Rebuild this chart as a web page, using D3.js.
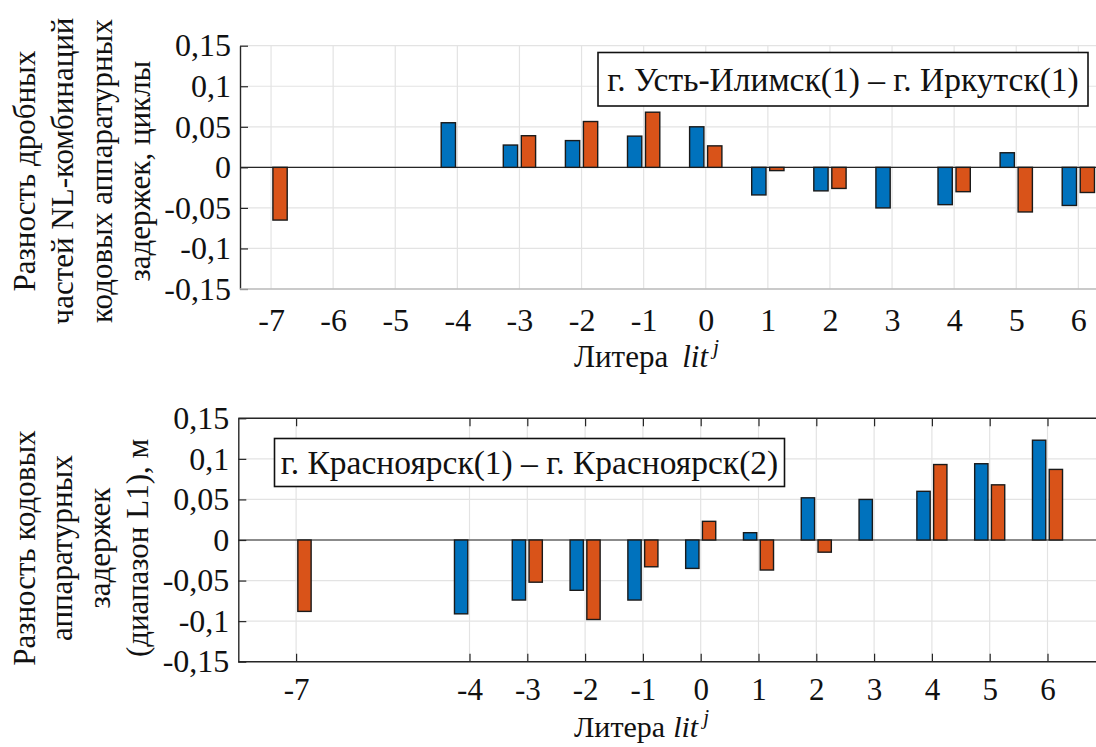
<!DOCTYPE html>
<html>
<head>
<meta charset="utf-8">
<script src="https://cdn.jsdelivr.net/npm/d3@7"></script>
<style>
  body { margin: 0; background: #fff; }
  svg, svg text { font-family: "Liberation Serif", "DejaVu Serif", "Times New Roman", serif; }
</style>
</head>
<body>
<div id="chart"></div>
<script>
// литеры ГЛОНАСС
const lit = [-7, -6, -5, -4, -3, -2, -1, 0, 1, 2, 3, 4, 5, 6];

// верхний график, циклы
const topBlue   = [NaN, NaN, NaN, 0.055, 0.0275, 0.033, 0.0385, 0.050, -0.034, -0.029, -0.050, -0.046, 0.018, -0.047];
const topOrange = [-0.065, NaN, NaN, NaN, 0.039, 0.0565, 0.068, 0.0265, -0.004, -0.026, NaN, -0.030, -0.055, -0.031];

// нижний график, м
const botBlue   = [NaN, NaN, NaN, -0.091, -0.074, -0.062, -0.074, -0.035, 0.009, 0.052, 0.050, 0.060, 0.094, 0.123];
const botOrange = [-0.088, NaN, NaN, NaN, -0.052, -0.098, -0.033, 0.023, -0.037, -0.015, NaN, 0.093, 0.068, 0.087];

const yTicks = [-0.15, -0.1, -0.05, 0, 0.05, 0.1, 0.15];
const topXTicks = lit;
const botXTicks = [-7, -4, -3, -2, -1, 0, 1, 2, 3, 4, 5, 6];

const topLegend = 'г. Усть-Илимск(1) – г. Иркутск(1)';
const botLegend = 'г. Красноярск(1) – г. Красноярск(2)';
const topYLabel = ['Разность дробных', 'частей NL-комбинаций', 'кодовых аппаратурных', 'задержек, циклы'];
const botYLabel = ['Разность кодовых', 'аппаратурных', 'задержек', '(диапазон L1), м'];

const W = 1096, H = 747;
const blue = '#0072BD', orange = '#D95319';
const axisCol = '#262626', gridCol = '#e3e3e3';
const serif = '"Liberation Serif", "DejaVu Serif", "Times New Roman", serif';
const fs = 31;      // подписи осей
const tickFs = 32;  // подписи делений
const legFs = 33.5;

const svg = d3.select('#chart').append('svg')
    .attr('width', W)
    .attr('height', H)
    .attr('font-family', serif);

const fmt = v => v === 0 ? '0' : String(+v.toFixed(2)).replace('.', ',');

function panel(o){
    const x = d3.scaleLinear().domain(o.xDomain).range(o.xRange);
    const y = d3.scaleLinear().domain([-0.15, 0.15]).range(o.yRange);
    const g = svg.append('g');
    const [y0, y1] = o.yRange;

    // grid
    g.selectAll('line.vg').data(o.xTicks).enter().append('line')
        .attr('x1', d => x(d)).attr('x2', d => x(d))
        .attr('y1', y1).attr('y2', y0)
        .attr('stroke', gridCol).attr('stroke-width', 1.2);
    g.selectAll('line.hg').data(yTicks).enter().append('line')
        .attr('x1', o.xRange[0]).attr('x2', W)
        .attr('y1', d => y(d)).attr('y2', d => y(d))
        .attr('stroke', gridCol).attr('stroke-width', 1.2);

    // zero line
    g.append('line')
        .attr('x1', o.xRange[0]).attr('x2', W)
        .attr('y1', y(0)).attr('y2', y(0))
        .attr('stroke', axisCol).attr('stroke-width', 1.2);

    // bars
    const off = 0.145, bw = 0.23;
    const series = [[o.blue, blue, -off], [o.orange, orange, off]];
    series.forEach(([vals, col, dx]) => {
        g.selectAll(null)
            .data(lit.map((l, i) => ({l, v: vals[i]})).filter(d => Number.isFinite(d.v)))
            .enter().append('rect')
            .attr('x', d => x(d.l + dx - bw / 2))
            .attr('width', x(bw) - x(0))
            .attr('y', d => y(Math.max(0, d.v)))
            .attr('height', d => Math.abs(y(d.v) - y(0)))
            .attr('fill', col)
            .attr('stroke', '#1a1a1a')
            .attr('stroke-width', 1.4);
    });

    // axes
    const left = g.append('g')
        .attr('transform', `translate(${o.xRange[0]},0)`)
        .call(d3.axisLeft(y).tickValues(yTicks).tickSizeInner(-8).tickSizeOuter(0).tickFormat(fmt));
    left.attr('font-family', serif).attr('font-size', tickFs);
    left.select('.domain').attr('stroke', axisCol).attr('stroke-width', 1.4);
    left.selectAll('.tick line').attr('stroke', axisCol).attr('stroke-width', 1.2);
    left.selectAll('.tick text')
        .attr('x', -9)
        .attr('fill', '#111');

    const bottom = g.append('g')
        .attr('transform', `translate(0,${y0})`)
        .call(d3.axisBottom(x).tickValues(o.xTicks).tickSizeInner(o.box ? -8 : 0).tickSizeOuter(0).tickFormat(d => d));
    bottom.attr('font-family', serif).attr('font-size', o.xTickFs);
    bottom.select('.domain').attr('d', `M${o.xRange[0]},0H${W}`)
        .attr('stroke', o.box ? axisCol : '#bdbdbd').attr('stroke-width', 1.4);
    bottom.selectAll('.tick line').attr('stroke', axisCol).attr('stroke-width', 1.2);
    bottom.selectAll('.tick text')
        .attr('y', o.xTickDy).attr('dy', 0)
        .attr('fill', '#111');

    if (o.box) {
        const topAx = g.append('g')
            .attr('transform', `translate(0,${y1})`)
            .call(d3.axisTop(x).tickValues(o.xTicks).tickSizeInner(-8).tickSizeOuter(0).tickFormat(''));
        topAx.select('.domain').attr('d', `M${o.xRange[0]},0H${W}`)
            .attr('stroke', axisCol).attr('stroke-width', 1.4);
        topAx.selectAll('.tick line').attr('stroke', axisCol).attr('stroke-width', 1.2);
    }

    // x title
    const tf = o.xTitleFs;
    const xt = g.append('text')
        .attr('x', o.xTitle[0]).attr('y', o.xTitle[1])
        .attr('font-size', tf).attr('fill', '#111');
    xt.append('tspan').text('Литера');
    xt.append('tspan').attr('font-style', 'italic').attr('dx', o.xTitleGap).text('lit');
    xt.append('tspan').attr('font-style', 'italic').attr('font-size', tf * 0.7)
        .attr('dx', 5).attr('dy', -13).text('j');

    // y title
    const [cx, cy] = o.yTitle;
    o.yLabel.forEach((line, i) => {
        g.append('text')
            .attr('transform', `translate(${cx[i]},${cy}) rotate(-90)`)
            .attr('text-anchor', 'middle')
            .attr('font-size', fs).attr('fill', '#111')
            .text(line);
    });

    // legend
    const [lx, ly, lw, lh] = o.legend;
    g.append('rect')
        .attr('x', lx).attr('y', ly).attr('width', lw).attr('height', lh)
        .attr('fill', '#fff').attr('stroke', '#111').attr('stroke-width', 1.6);
    g.append('text')
        .attr('x', lx + lw / 2).attr('y', ly + lh / 2)
        .attr('dy', '0.34em')
        .attr('text-anchor', 'middle')
        .attr('font-size', legFs).attr('fill', '#111')
        .text(o.legendText);
}

panel({
    xDomain: [-7.5, 7.5], xRange: [240, 240 + 15 * 62.1],
    yRange: [289, 45.7],
    xTicks: topXTicks, blue: topBlue, orange: topOrange,
    box: false, xTickDy: 42, xTickFs: tickFs,
    xTitle: [574, 367], xTitleGap: 14, xTitleFs: fs,
    yTitle: [[35, 73, 112, 150], 171], yLabel: topYLabel,
    legend: [598, 52.5, 490, 53.5], legendText: topLegend
});

panel({
    xDomain: [-8, 7], xRange: [238.3, 238.3 + 15 * 57.8],
    yRange: [661.7, 418.3],
    xTicks: botXTicks, blue: botBlue, orange: botOrange,
    box: true, xTickDy: 38, xTickFs: 31,
    xTitle: [574, 737], xTitleGap: 8, xTitleFs: 30,
    yTitle: [[35, 72, 110, 148], 548], yLabel: botYLabel,
    legend: [274.5, 438.5, 510, 48], legendText: botLegend
});
</script>
</body>
</html>
